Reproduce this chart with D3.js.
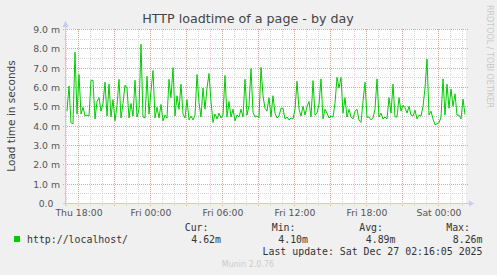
<!DOCTYPE html>
<html>
<head>
<meta charset="utf-8">
<script src="https://cdn.jsdelivr.net/npm/d3@7"></script>
<style>
body { margin: 0; background: #f0f0f0; }
svg { display: block; }
</style>
</head>
<body>
<div id="chart"></div>
<script>
// munin "http_loadtime" day graph, values in ms (shown with the "m" prefix)
const title = 'HTTP loadtime of a page - by day';
const yLabel = 'Load time in seconds';
const seriesName = 'http://localhost/';
const startTime = Date.UTC(2025, 11, 25, 17, 0);   // Thu 17:00
const stepMinutes = 10;
const loadTimes = [
    4.8, 6.1, 4.2, 4.15, 7.85, 4.65, 6.7, 4.65, 5.0, 4.55,
    4.6, 4.55, 6.4, 6.4, 4.4, 5.3, 5.5, 4.8, 5.2, 6.3,
    4.55, 6.2, 4.5, 5.4, 4.3, 5.1, 6.45, 4.45, 5.2, 6.15,
    6.0, 4.45, 5.2, 4.55, 6.4, 4.5, 4.9, 8.26, 4.5, 4.45,
    6.6, 4.65, 5.85, 6.9, 4.45, 5.0, 4.45, 5.15, 4.3, 4.6,
    4.45, 6.45, 5.5, 7.05, 4.55, 5.6, 4.9, 6.2, 4.65, 4.45,
    5.4, 4.35, 4.55, 4.35, 4.6, 6.7, 5.25, 4.5, 6.0, 4.9,
    6.0, 6.75, 5.3, 4.22, 4.65, 4.4, 4.7, 4.45, 4.6, 6.65,
    4.5, 5.3, 4.5, 4.9, 4.3, 4.6, 4.5, 4.9, 4.5, 6.45,
    4.6, 5.1, 7.0, 4.75, 4.5, 4.55, 4.45, 7.07, 5.6, 4.95,
    4.8, 5.5, 4.5, 5.6, 4.7, 4.45, 4.55, 4.95, 4.95, 4.4,
    4.5, 4.35, 4.45, 4.4, 4.9, 6.35, 4.9, 4.55, 5.05, 4.6,
    5.05, 5.3, 4.5, 6.38, 4.6, 4.7, 5.17, 6.47, 4.4, 4.9,
    4.7, 4.45, 4.55, 4.5, 5.2, 6.55, 6.0, 6.55, 4.7, 5.5,
    4.5, 4.9, 4.5, 4.4, 4.8, 4.9, 4.35, 4.22, 5.3, 6.3,
    4.48, 4.5, 4.35, 4.45, 4.9, 6.47, 4.5, 4.7, 4.4, 4.5,
    4.4, 5.5, 4.7, 6.2, 4.5, 4.5, 5.5, 4.8, 5.1, 5.0,
    4.7, 5.05, 4.6, 4.55, 4.85, 4.4, 4.6, 4.55, 5.05, 6.0,
    7.5, 4.6, 4.8, 4.4, 4.1, 4.15, 4.2, 4.5, 6.47, 4.6,
    6.2, 4.95, 5.95, 5.05, 5.7, 4.6, 4.6, 4.4, 5.43, 4.62
];
const yTicks = [0, 1, 2, 3, 4, 5, 6, 7, 8, 9];
const yMinorTicks = [0.5, 1.5, 2.5, 3.5, 4.5, 5.5, 6.5, 7.5, 8.5];
const statLabels = ['Cur:', 'Min:', 'Avg:', 'Max:'];
const statValues = ['4.62m', '4.10m', '4.89m', '8.26m'];
const lastUpdate = 'Last update: Sat Dec 27 02:16:05 2025';
const credit = 'RRDTOOL / TOBI OETIKER';
const version = 'Munin 2.0.76';

const points = loadTimes.map((v, i) => ({ t: new Date(startTime + i * stepMinutes * 60000), v: v }));

const svg = d3.select('#chart')
    .append('svg')
    .attr('width', 497)
    .attr('height', 275)
    .style('background', '#f0f0f0');

const x = d3.scaleUtc()
    .domain([new Date(Date.UTC(2025, 11, 25, 16, 55)), new Date(Date.UTC(2025, 11, 27, 2, 15))])
    .range([66, 466]);

const y = d3.scaleLinear()
    .domain([0, 9])
    .range([204, 30]);

const crisp = (p) => Math.round(p) - 0.5;

svg.append('rect')
    .attr('x', 66)
    .attr('y', 29)
    .attr('width', 400)
    .attr('height', 175)
    .attr('fill', 'white');

const hours = d3.utcHour.range(x.domain()[0], x.domain()[1]);
const majorHours = hours.filter(d => d.getUTCHours() % 3 === 0);
const minorHours = hours.filter(d => d.getUTCHours() % 3 !== 0);
const labelHours = hours.filter(d => d.getUTCHours() % 6 === 0);

// minor grid
svg.append('g').selectAll('line')
    .data(minorHours)
    .join('line')
    .attr('x1', d => crisp(x(d)))
    .attr('x2', d => crisp(x(d)))
    .attr('y1', 29)
    .attr('y2', 206)
    .attr('stroke', '#d4d4d4')
    .attr('stroke-dasharray', '1,1');

svg.append('g').selectAll('line')
    .data(yMinorTicks)
    .join('line')
    .attr('x1', 64)
    .attr('x2', 468)
    .attr('y1', d => crisp(y(d)))
    .attr('y2', d => crisp(y(d)))
    .attr('stroke', '#d4d4d4')
    .attr('stroke-dasharray', '1,1');

// major grid
svg.append('g').selectAll('line')
    .data(majorHours)
    .join('line')
    .attr('x1', d => crisp(x(d)))
    .attr('x2', d => crisp(x(d)))
    .attr('y1', 29)
    .attr('y2', 207)
    .attr('stroke', '#eaa0a0')
    .attr('stroke-dasharray', '1,1');

svg.append('g').selectAll('line')
    .data(yTicks)
    .join('line')
    .attr('x1', 63)
    .attr('x2', 468)
    .attr('y1', d => crisp(y(d)))
    .attr('y2', d => crisp(y(d)))
    .attr('stroke', '#eaa0a0')
    .attr('stroke-dasharray', '1,1');

// axes with arrows
svg.append('line')
    .attr('x1', 63).attr('x2', 469)
    .attr('y1', 203.5).attr('y2', 203.5)
    .attr('stroke', '#c8c8f0');
svg.append('line')
    .attr('x1', 65.5).attr('x2', 65.5)
    .attr('y1', 206).attr('y2', 26)
    .attr('stroke', '#c8c8f0');
svg.append('path')
    .attr('d', 'M469,200.5 L474,203.5 L469,206.5 Z')
    .attr('fill', '#c8c8f0');
svg.append('path')
    .attr('d', 'M62.5,27 L65.5,21 L68.5,27 Z')
    .attr('fill', '#c8c8f0');

// series
svg.append('path')
    .datum(points)
    .attr('fill', 'none')
    .attr('stroke', '#00cc00')
    .attr('stroke-width', 1)
    .attr('d', d3.line().x(d => x(d.t)).y(d => y(d.v)));

// tick labels
svg.append('g').selectAll('text')
    .data(yTicks)
    .join('text')
    .attr('x', d => d === 0 ? 53.5 : 60)
    .attr('y', d => y(d) + 3)
    .attr('text-anchor', 'end')
    .style('font-family', 'DejaVu Sans')
    .style('font-size', '9.3px')
    .attr('fill', '#555')
    .text(d => d.toFixed(1) + (d === 0 ? '' : ' m'));

const fmt = d3.utcFormat('%a %H:%M');
svg.append('g').selectAll('text')
    .data(labelHours)
    .join('text')
    .attr('x', d => x(d))
    .attr('y', 216)
    .attr('text-anchor', 'middle')
    .style('font-family', 'DejaVu Sans')
    .style('font-size', '9.3px')
    .attr('fill', '#555')
    .text(d => fmt(d));

svg.append('text')
    .attr('x', 248)
    .attr('y', 23)
    .attr('text-anchor', 'middle')
    .style('font-family', 'DejaVu Sans')
    .style('font-size', '12.7px')
    .attr('fill', '#444')
    .text(title);

svg.append('text')
    .attr('transform', 'translate(15,116) rotate(-90)')
    .attr('text-anchor', 'middle')
    .style('font-family', 'DejaVu Sans')
    .style('font-size', '10.5px')
    .attr('fill', '#444')
    .text(yLabel);

svg.append('text')
    .attr('transform', 'translate(487,5) rotate(90)')
    .style('font-family', 'DejaVu Sans')
    .style('font-size', '8px')
    .attr('fill', '#c8c8c8')
    .text(credit);

// legend
svg.append('rect')
    .attr('x', 14)
    .attr('y', 236)
    .attr('width', 6)
    .attr('height', 6)
    .attr('fill', '#00cc00');

const mono = (sel) => sel
    .style('font-family', 'DejaVu Sans Mono')
    .style('font-size', '9.9px')
    .attr('fill', '#333');

svg.append('text').attr('x', 27).attr('y', 243).text(seriesName).call(mono);

const statRight = [208.5, 295.5, 383, 470];
svg.append('g').selectAll('text')
    .data(statLabels)
    .join('text')
    .attr('x', (d, i) => statRight[i])
    .attr('y', 231)
    .attr('text-anchor', 'end')
    .text(d => d)
    .call(mono);

svg.append('g').selectAll('text')
    .data(statValues)
    .join('text')
    .attr('x', (d, i) => statRight[i] + 12.5)
    .attr('y', 243)
    .attr('text-anchor', 'end')
    .text(d => d)
    .call(mono);

svg.append('text')
    .attr('x', 482.5)
    .attr('y', 255)
    .attr('text-anchor', 'end')
    .text(lastUpdate)
    .call(mono);

svg.append('text')
    .attr('x', 248)
    .attr('y', 267)
    .attr('text-anchor', 'middle')
    .style('font-family', 'DejaVu Sans')
    .style('font-size', '8px')
    .attr('fill', '#cccccc')
    .text(version);
</script>
</body>
</html>
